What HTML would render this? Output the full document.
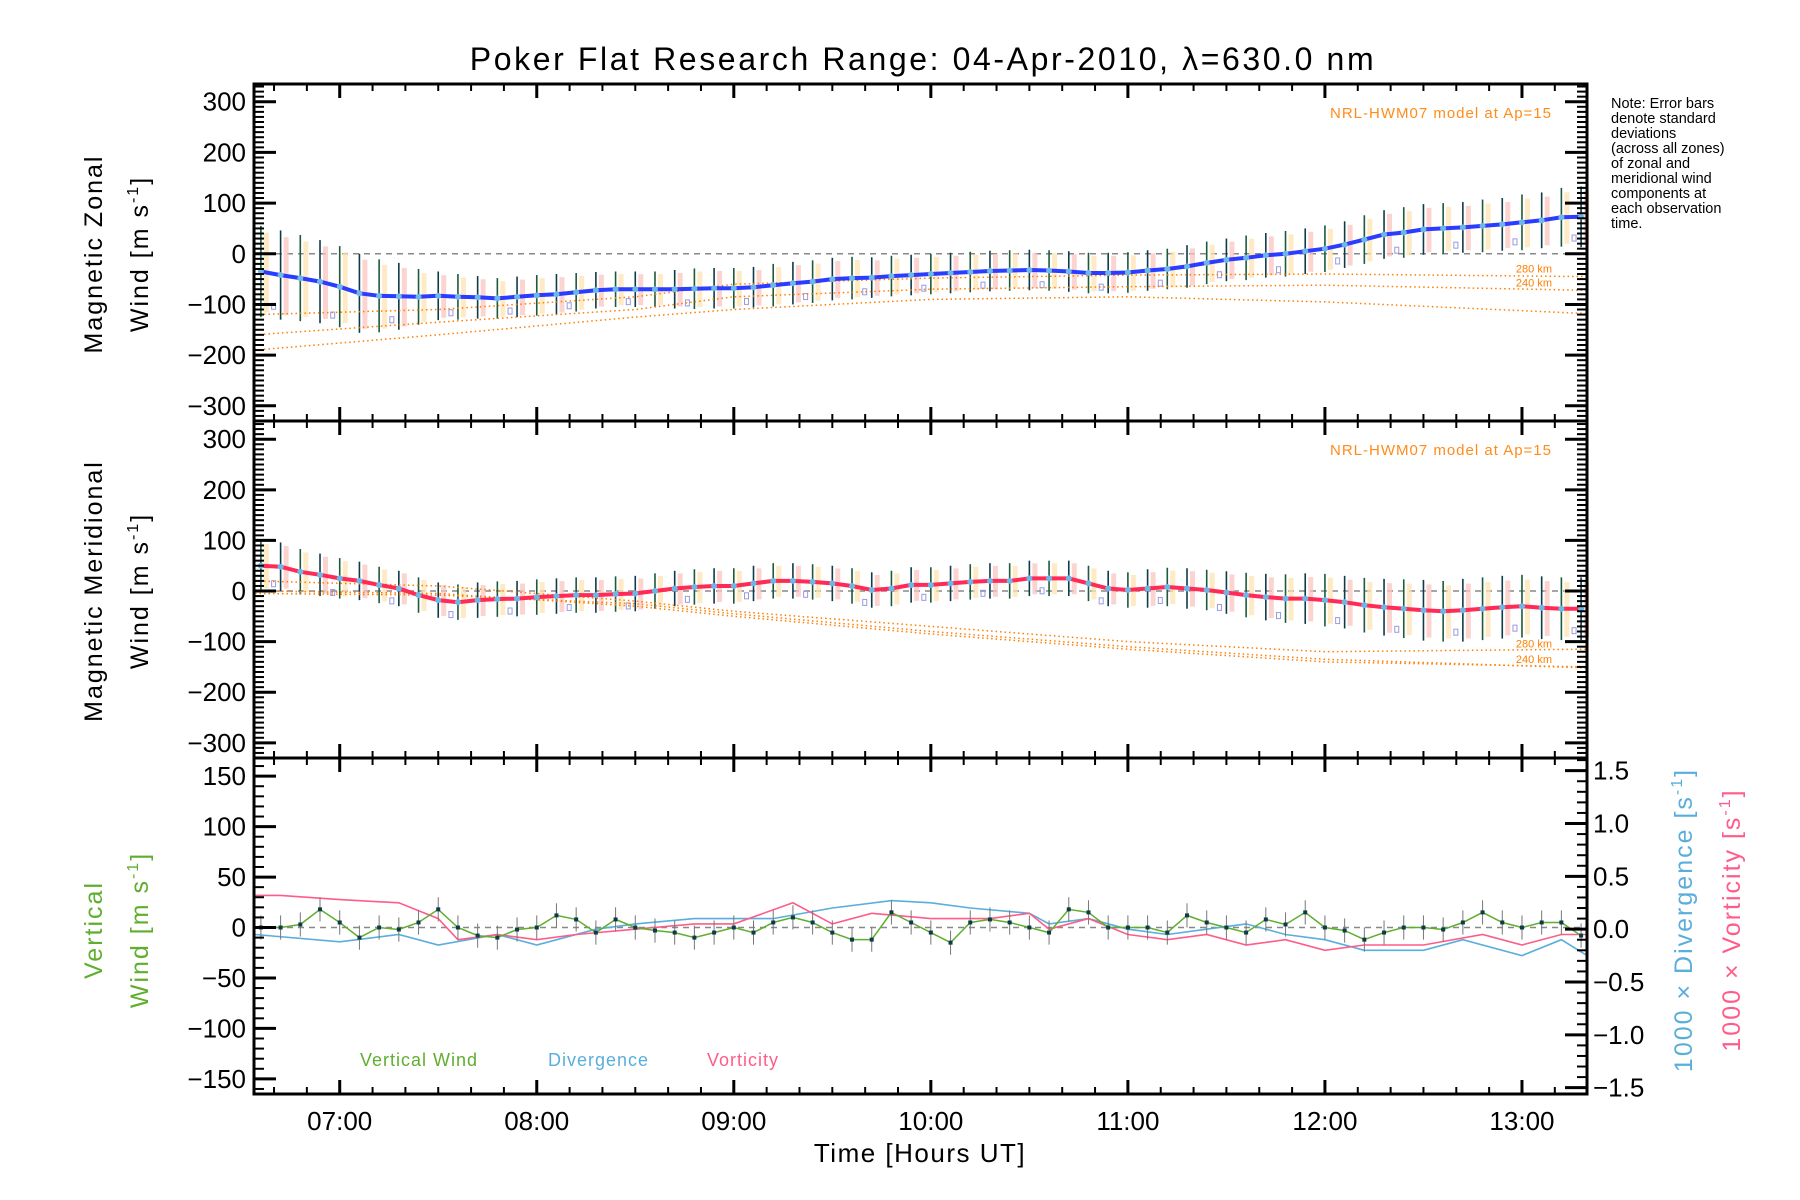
<!DOCTYPE html>
<html><head><meta charset="utf-8">
<style>
html,body{margin:0;padding:0;background:#fff;}
svg{display:block;font-family:"Liberation Sans",sans-serif;}
</style></head>
<body>
<svg id="chart" width="1800" height="1200" viewBox="0 0 1800 1200" xmlns="http://www.w3.org/2000/svg">
<rect x="0" y="0" width="1800" height="1200" fill="#fff"/>
<text x="923" y="70" font-size="32" letter-spacing="2.6" text-anchor="middle">Poker Flat Research Range: 04-Apr-2010, λ=630.0 nm</text>
<g id="layer"></g>
<g font-size="14.5" fill="#000">
<text x="1611" y="108">Note: Error bars</text>
<text x="1611" y="123">denote standard</text>
<text x="1611" y="138">deviations</text>
<text x="1611" y="153">(across all zones)</text>
<text x="1611" y="168">of zonal and</text>
<text x="1611" y="183">meridional wind</text>
<text x="1611" y="198">components at</text>
<text x="1611" y="213">each observation</text>
<text x="1611" y="228">time.</text>
</g>
<text transform="translate(102,254) rotate(-90)" font-size="25" letter-spacing="2" text-anchor="middle">Magnetic Zonal</text>
<text transform="translate(148,254) rotate(-90)" font-size="25" letter-spacing="2" text-anchor="middle">Wind [m s<tspan font-size="16" dy="-10">-1</tspan><tspan dy="10">]</tspan></text>
<text transform="translate(102,591) rotate(-90)" font-size="25" letter-spacing="2" text-anchor="middle">Magnetic Meridional</text>
<text transform="translate(148,591) rotate(-90)" font-size="25" letter-spacing="2" text-anchor="middle">Wind [m s<tspan font-size="16" dy="-10">-1</tspan><tspan dy="10">]</tspan></text>
<text transform="translate(102,930) rotate(-90)" font-size="25" letter-spacing="2" text-anchor="middle" fill="#5fae2e">Vertical</text>
<text transform="translate(148,930) rotate(-90)" font-size="25" letter-spacing="2" text-anchor="middle" fill="#5fae2e">Wind [m s<tspan font-size="16" dy="-10">-1</tspan><tspan dy="10">]</tspan></text>
<text transform="translate(1692,920) rotate(-90)" font-size="25" letter-spacing="2" text-anchor="middle" fill="#5aaedc">1000 × Divergence [s<tspan font-size="16" dy="-10">-1</tspan><tspan dy="10">]</tspan></text>
<text transform="translate(1740,920) rotate(-90)" font-size="25" letter-spacing="2" text-anchor="middle" fill="#ff5c8a">1000 × Vorticity [s<tspan font-size="16" dy="-10">-1</tspan><tspan dy="10">]</tspan></text>
<text x="920" y="1162" font-size="26" letter-spacing="1.5" text-anchor="middle">Time [Hours UT]</text>
<text x="1552" y="118" font-size="15" letter-spacing="1" text-anchor="end" fill="#ff8c1a">NRL-HWM07 model at Ap=15</text>
<text x="1552" y="455" font-size="15" letter-spacing="1" text-anchor="end" fill="#ff8c1a">NRL-HWM07 model at Ap=15</text>
<text x="360" y="1066" font-size="18" letter-spacing="1" fill="#5fae2e">Vertical Wind</text>
<text x="548" y="1066" font-size="18" letter-spacing="1" fill="#5aaedc">Divergence</text>
<text x="707" y="1066" font-size="18" letter-spacing="1" fill="#ff5c8a">Vorticity</text>
</svg>
<script>
// ---- data ----
const hours = [6.6,6.7,6.8,6.9,7.0,7.1,7.2,7.3,7.4,7.5,7.6,7.7,7.8,7.9,8.0,8.1,8.2,8.3,8.4,8.5,8.6,8.7,8.8,8.9,9.0,9.1,9.2,9.3,9.4,9.5,9.6,9.7,9.8,9.9,10.0,10.1,10.2,10.3,10.4,10.5,10.6,10.7,10.8,10.9,11.0,11.1,11.2,11.3,11.4,11.5,11.6,11.7,11.8,11.9,12.0,12.1,12.2,12.3,12.4,12.5,12.6,12.7,12.8,12.9,13.0,13.1,13.2,13.3];
const zonal = [-35,-42,-48,-55,-65,-78,-83,-84,-85,-83,-85,-86,-88,-85,-82,-80,-76,-72,-70,-70,-70,-70,-69,-68,-68,-66,-62,-58,-55,-50,-48,-47,-44,-42,-40,-38,-36,-34,-33,-32,-33,-35,-38,-38,-37,-33,-30,-25,-18,-12,-8,-3,0,5,10,18,28,38,42,48,50,52,55,58,62,66,72,73];
const zonalErr = [90,88,85,82,80,78,72,66,55,48,45,42,40,40,40,40,38,36,35,35,35,38,40,40,40,40,42,42,42,42,42,40,40,40,40,40,40,40,40,40,40,40,40,40,40,40,40,42,42,42,44,44,45,45,46,46,48,48,50,50,50,50,52,52,55,55,58,60];
const merid = [50,48,38,32,25,20,12,5,-8,-18,-22,-18,-16,-15,-12,-10,-8,-8,-6,-5,0,5,8,10,10,15,20,20,18,15,10,2,5,12,12,15,18,20,20,25,25,25,15,5,2,5,8,5,2,-3,-8,-12,-15,-15,-18,-22,-28,-32,-35,-38,-40,-38,-35,-32,-30,-33,-35,-35];
const meridErr = [50,48,45,42,40,38,36,35,35,35,35,35,35,35,35,35,35,35,35,35,35,35,35,35,35,35,35,35,35,35,35,35,35,35,35,35,35,35,35,35,35,35,35,35,35,38,38,40,40,42,44,46,48,50,52,52,54,56,58,60,60,62,62,62,62,62,62,62];
const vertWind = [0,0,3,18,5,-10,0,-2,5,18,0,-8,-10,-2,0,12,8,-5,8,0,-3,-5,-10,-5,0,-5,5,10,5,-5,-12,-12,15,5,-5,-15,5,8,5,0,-5,18,15,0,0,0,-5,12,5,0,-5,8,3,15,0,-3,-12,-5,0,0,-2,5,15,5,0,5,5,-8];
const modelTimes = [6.57,7.5,8.5,9.0,10.0,11.0,12.0,13.33];
const zonalModel280 = [-120,-110,-85,-60,-48,-42,-40,-45];
const zonalModel240 = [-160,-135,-110,-85,-70,-65,-62,-72];
const zonalModel200 = [-190,-160,-125,-110,-90,-85,-95,-118];
const meridModel280 = [20,10,-20,-40,-70,-100,-120,-115];
const meridModel240 = [0,-5,-30,-50,-85,-115,-140,-150];
const meridModel200 = [-5,-8,-25,-45,-80,-110,-135,-152];
const divTimes = [6.57,7.0,7.3,7.5,7.8,8.0,8.3,8.5,8.8,9.0,9.2,9.5,9.8,10.0,10.2,10.5,10.6,10.8,11.0,11.2,11.4,11.6,11.8,12.0,12.2,12.5,12.7,13.0,13.2,13.33];
const divergence = [-0.05,-0.12,-0.05,-0.15,-0.05,-0.15,0.0,0.05,0.1,0.1,0.1,0.2,0.27,0.25,0.2,0.15,0.05,0.1,0.0,-0.05,0.0,0.05,-0.05,-0.1,-0.2,-0.2,-0.1,-0.25,-0.1,-0.25];
const vortTimes = [6.57,6.7,7.0,7.3,7.5,7.6,7.8,8.0,8.2,8.5,8.8,9.0,9.3,9.5,9.7,10.0,10.3,10.5,10.6,10.8,11.0,11.2,11.4,11.6,11.8,12.0,12.2,12.5,12.8,13.0,13.2,13.33];
const vorticity = [0.32,0.32,0.28,0.25,0.1,-0.1,-0.05,-0.1,-0.05,0.0,0.05,0.05,0.25,0.05,0.15,0.1,0.1,0.15,0.0,0.1,-0.05,-0.1,-0.05,-0.15,-0.1,-0.2,-0.15,-0.15,-0.05,-0.15,-0.05,-0.05];
const hourTicks = [7,8,9,10,11,12,13];
const hourLabels = ["07:00","08:00","09:00","10:00","11:00","12:00","13:00"];
const windTicks = [-300,-200,-100,0,100,200,300];
const vertTicks = [-150,-100,-50,0,50,100,150];
const rightTicks = [-1.5,-1.0,-0.5,0.0,0.5,1.0,1.5];

// ---- layout ----
const NS="http://www.w3.org/2000/svg";
const L=254,R=1587,T0=6.565,T1=13.33;
const P=[{top:84,bot:421,min:-330,max:335},{top:421,bot:758,min:-330,max:336},{top:758,bot:1094,min:-165,max:168}];
const RMIN=-1.56,RMAX=1.62;
const layer=document.getElementById('layer');
function x(t){return L+(t-T0)/(T1-T0)*(R-L);}
function y(p,v){return p.bot-(v-p.min)/(p.max-p.min)*(p.bot-p.top);}
function yr(v){const p=P[2];return p.bot-(v-RMIN)/(RMAX-RMIN)*(p.bot-p.top);}
function mk(tag,attrs,parent){const e=document.createElementNS(NS,tag);for(const k in attrs)e.setAttribute(k,attrs[k]);(parent||layer).appendChild(e);return e;}
function poly(xs,ys,attrs,name){const pts=xs.map((t,i)=>x(t).toFixed(1)+','+ys[i].toFixed(1)).join(' ');const e=mk('polyline',Object.assign({points:pts,fill:'none'},attrs));


return e;}

P.forEach((p,i)=>{const e=mk('line',{x1:L,x2:R,y1:y(p,0),y2:y(p,0),stroke:'#888','stroke-width':1.5,'stroke-dasharray':'6,5'});

});

function windPanel(p,vals,errs,lineColor,models,name){
  hours.forEach((t,i)=>{
    const bx=x(t);
    const pb=mk('rect',{x:bx+3,y:y(p,vals[i]+errs[i]*0.85),width:5,height:y(p,vals[i]-errs[i]*0.9)-y(p,vals[i]+errs[i]*0.85),fill:i%2?'#f9c6c0':'#fde3b0',opacity:0.75});
    
    
    const eb=mk('line',{x1:bx,x2:bx,y1:y(p,vals[i]+errs[i]),y2:y(p,vals[i]-errs[i]),stroke:i%2?'#0d3b4a':'#1c5a3a','stroke-width':1.6});
    
    
    if(i%3==1){const sq=mk('rect',{x:bx-9,y:y(p,vals[i]-errs[i]*0.7)-3,width:4,height:6,fill:'none',stroke:'#9a9ae0','stroke-width':1});
    
    }
  });
  models.forEach((m,k)=>{poly(modelTimes,m.map(v=>y(p,v)),{stroke:'#ff7f00','stroke-width':1.5,'stroke-dasharray':'1.5,3'},name+'-model-'+k);});
  poly(hours,vals.map(v=>y(p,v)),{stroke:lineColor,'stroke-width':4},name+'-line');
  hours.forEach((t,i)=>{const c=mk('circle',{cx:x(t),cy:y(p,vals[i]),r:3,fill:'#6fb6e8'});
  
  });
}
windPanel(P[0],zonal,zonalErr,'#2a3cff',[zonalModel280,zonalModel240,zonalModel200],'zonal');
windPanel(P[1],merid,meridErr,'#ff2a55',[meridModel280,meridModel240,meridModel200],'meridional');

[[P[0],-37,'280 km'],[P[0],-65,'240 km'],[P[1],-112,'280 km'],[P[1],-142,'240 km']].forEach(a=>{
 const e=mk('text',{x:1552,y:y(a[0],a[1]),'font-size':11,'text-anchor':'end',fill:'#ff7f00'});e.textContent=a[2];
 
 });

poly(divTimes,divergence.map(yr),{stroke:'#5aaedc','stroke-width':1.6},'divergence-line');
poly(vortTimes,vorticity.map(yr),{stroke:'#ff5c8a','stroke-width':1.6},'vorticity-line');
hours.forEach((t,i)=>{const e=mk('line',{x1:x(t),x2:x(t),y1:y(P[2],vertWind[i]+12),y2:y(P[2],vertWind[i]-12),stroke:'#777','stroke-width':1});

});
poly(hours,vertWind.map(v=>y(P[2],v)),{stroke:'#5fae2e','stroke-width':1.5},'vertical-wind-line');
hours.forEach((t,i)=>{const e=mk('rect',{x:x(t)-2,y:y(P[2],vertWind[i])-2,width:4,height:4,fill:'#0d3b4a'});

});

P.forEach((p,pi)=>{
  const fr=mk('rect',{x:L,y:p.top,width:R-L,height:p.bot-p.top,fill:'none',stroke:'#000','stroke-width':3});
  
  
  for(let m=Math.ceil(T0*6);m<=T1*6;m++){
    const t=m/6, major=(m%6===0), len=major?14:7, xx=x(t);
    mk('line',{x1:xx,x2:xx,y1:p.top,y2:p.top+len,stroke:'#000','stroke-width':major?3:2});
    mk('line',{x1:xx,x2:xx,y1:p.bot,y2:p.bot-len,stroke:'#000','stroke-width':major?3:2});
  }
  const step=10, majorStep=pi<2?100:50;
  for(let v=Math.ceil(p.min/step)*step;v<=p.max;v+=step){
    const major=(v%majorStep===0), len=major?22:10, yy=y(p,v);
    mk('line',{x1:L,x2:L+len,y1:yy,y2:yy,stroke:'#000','stroke-width':major?3:2});
    if(pi<2) mk('line',{x1:R,x2:R-len,y1:yy,y2:yy,stroke:'#000','stroke-width':major?3:2});
  }
  const tl=pi<2?windTicks:vertTicks;
  tl.forEach(v=>{const e=mk('text',{x:L-8,y:y(p,v)+9,'font-size':26,'text-anchor':'end'});e.textContent=(v<0?'\u2212'+(-v):v);
  
  });
});
for(let k=-15;k<=16;k++){const v=k/10,major=(k%5===0),len=major?22:10,yy=yr(v);
 mk('line',{x1:R,x2:R-len,y1:yy,y2:yy,stroke:'#000','stroke-width':major?3:2});}
rightTicks.forEach(v=>{const e=mk('text',{x:R+6,y:yr(v)+9,'font-size':26});e.textContent=(v<0?'\u2212':'')+Math.abs(v).toFixed(1);

});
hourTicks.forEach((h,i)=>{const e=mk('text',{x:x(h),y:1130,'font-size':26,'text-anchor':'middle'});e.textContent=hourLabels[i];

});
</script>
</body></html>
